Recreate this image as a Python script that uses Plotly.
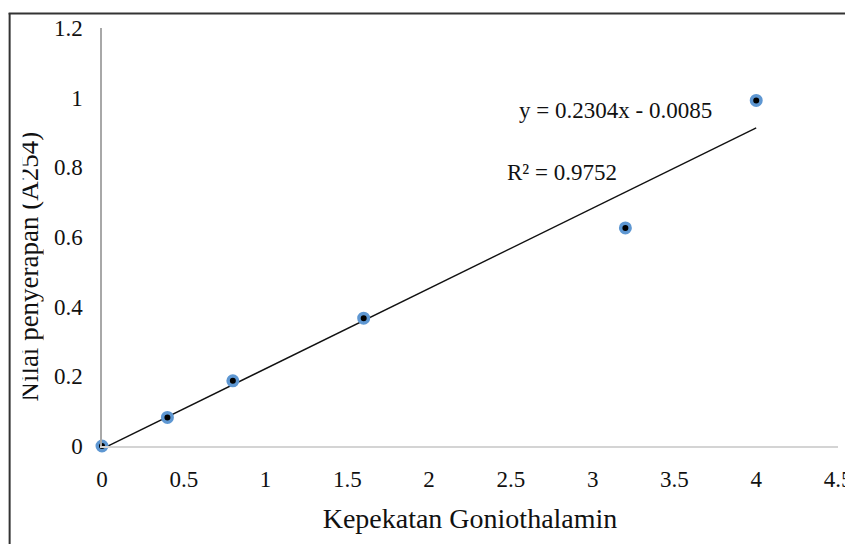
import plotly.graph_objects as go

# Data
conc = [0, 0.4, 0.8, 1.6, 3.2, 4.0]
absorb = [0, 0.082, 0.187, 0.367, 0.626, 0.992]
slope = 0.2304
intercept = -0.0085
x_ticks = [0, 0.5, 1, 1.5, 2, 2.5, 3, 3.5, 4, 4.5]
y_ticks = [0, 0.2, 0.4, 0.6, 0.8, 1, 1.2]
eq_text = "y = 0.2304x - 0.0085"
r2_text = "R² = 0.9752"
x_title = "Kepekatan Goniothalamin"
y_title = "Nilai penyerapan (A254)"

W, H = 845, 544
ML, MR, MT, MB = 101.5, 6.5, 28, 98
PW = W - ML - MR
PH = H - MT - MB


def sx(xs):
    """window x pixel -> paper x"""
    return (xs - ML) / PW


def sy(ys):
    """window y pixel -> paper y"""
    return (MT + PH - ys) / PH


FONT = "Liberation Serif"

trend_x = [min(conc), max(conc)]
trend_y = [slope * v + intercept for v in trend_x]

fig = go.Figure()
fig.add_trace(go.Scatter(
    x=trend_x, y=trend_y, mode="lines",
    line=dict(color="#111111", width=1.4),
    cliponaxis=False, showlegend=False, hoverinfo="skip"))
fig.add_trace(go.Scatter(
    x=conc, y=absorb, mode="markers",
    marker=dict(size=9.5, color="#000000",
                line=dict(color="#5e97d2", width=3.5)),
    cliponaxis=False, showlegend=False))

tick_font = dict(size=23, family=FONT, color="#111111")

fig.update_layout(
    width=W, height=H,
    margin=dict(l=ML, r=MR, t=MT, b=MB, autoexpand=False),
    paper_bgcolor="white", plot_bgcolor="white",
    font=dict(family=FONT, color="#111111", size=23),
    showlegend=False,
    xaxis=dict(
        range=[0, 4.5], tickvals=x_ticks,
        ticktext=[f"{v:g}" for v in x_ticks],
        showgrid=False, zeroline=False,
        showline=True, linecolor="#d4d4d4", linewidth=1.5,
        ticks="", ticklabelstandoff=12, ticklabeloverflow="allow",
        tickfont=tick_font,
        automargin=False,
        title=dict(text=x_title, font=dict(size=28, family=FONT, color="#111111"),
                   standoff=17),
    ),
    yaxis=dict(
        range=[0, 1.2], tickvals=y_ticks,
        ticktext=[f"{v:g}" for v in y_ticks],
        showgrid=False, zeroline=False,
        showline=True, linecolor="#a8a8a8", linewidth=1.5,
        ticks="", ticklabelstandoff=13, ticklabeloverflow="allow",
        tickfont=tick_font,
        automargin=False,
    ),
    annotations=[
        dict(text=eq_text, x=sx(517), y=sy(110), xref="paper", yref="paper",
             xanchor="left", yanchor="middle", showarrow=False,
             font=dict(size=23, family=FONT, color="#111111")),
        dict(text=r2_text, x=sx(505), y=sy(172), xref="paper", yref="paper",
             xanchor="left", yanchor="middle", showarrow=False,
             font=dict(size=23, family=FONT, color="#111111")),
        dict(text=y_title, x=sx(19.5), y=sy(267), xref="paper", yref="paper",
             xanchor="left", yanchor="middle", showarrow=False,
             textangle=-90, height=21, valign="bottom",
             font=dict(size=27, family=FONT, color="#111111")),
    ],
    shapes=[
        dict(type="line", xref="paper", yref="paper",
             x0=sx(9), x1=sx(9), y0=sy(13), y1=sy(560),
             line=dict(color="#333333", width=2)),
        dict(type="line", xref="paper", yref="paper",
             x0=sx(8), x1=sx(860), y0=sy(13.5), y1=sy(13.5),
             line=dict(color="#333333", width=2)),
    ],
)

fig.write_html(
    "out.html",
    config={"displayModeBar": False},
    post_script="document.body.style.margin='0';document.body.style.overflow='hidden';",
)
